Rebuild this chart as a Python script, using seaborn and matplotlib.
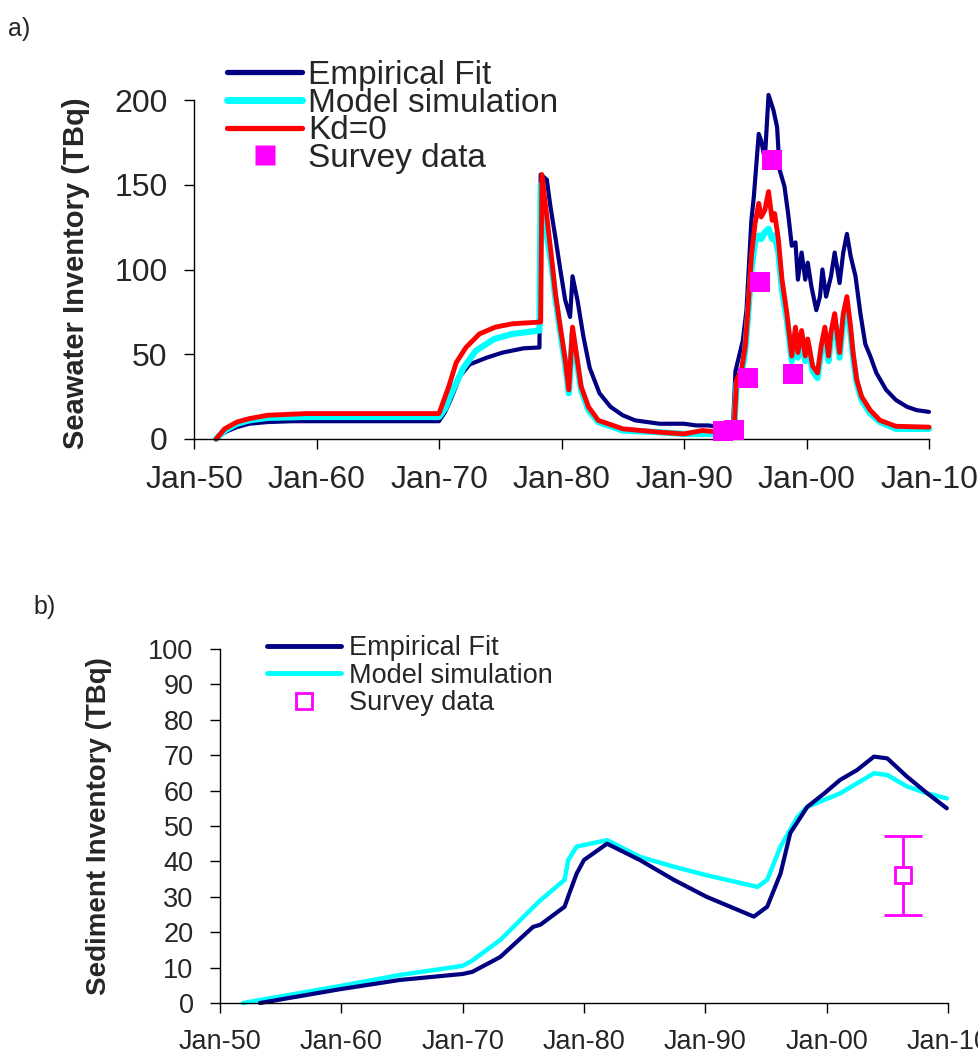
import matplotlib
matplotlib.use("Agg")
import matplotlib.pyplot as plt
from matplotlib.lines import Line2D
import seaborn as sns

# ---------------- (a) Seawater inventory, TBq ----------------
emp_sea_year = [1951.8, 1952.5, 1953.5, 1954.5, 1956.0, 1958.0, 1960.0, 1970.0, 1970.5, 1971.0,
                1971.7, 1972.5, 1973.9, 1975.2, 1976.9, 1978.2, 1978.3, 1978.8, 1979.1, 1979.5,
                1979.9, 1980.3, 1980.7, 1980.9, 1981.3, 1981.8, 1982.3, 1983.1, 1984.0, 1985.0,
                1986.0, 1987.0, 1988.0, 1990.0, 1991.0, 1992.0, 1993.0, 1994.0, 1994.2, 1994.8,
                1995.1, 1995.5, 1995.7, 1996.1, 1996.3, 1996.6, 1996.9, 1997.3, 1997.6, 1997.8,
                1998.2, 1998.5, 1998.8, 1999.1, 1999.3, 1999.6, 1999.9, 2000.1, 2000.4, 2000.8,
                2001.1, 2001.3, 2001.6, 2002.0, 2002.3, 2002.7, 2003.0, 2003.3, 2003.6, 2004.0,
                2004.4, 2004.8, 2005.2, 2005.7, 2006.5, 2007.3, 2008.2, 2009.0, 2010.0]
emp_sea_val = [0, 4, 7, 9, 10, 10.5, 10.5, 10.5, 16, 24,
               37, 44, 48, 51, 53.5, 54, 156, 153, 137, 119,
               100, 82, 72, 96, 82, 60, 42, 27, 19, 14,
               11, 10, 9, 9, 8, 8, 7, 8, 40, 58,
               76, 129, 143, 180, 176, 165, 203, 194, 184, 159,
               149, 133, 114, 116, 94, 110, 94, 104, 90, 76,
               84, 100, 84, 96, 110, 92, 110, 121, 108, 96,
               74, 56, 49, 39, 29, 23, 19, 17, 16]

model_sea_year = [1951.8, 1952.5, 1953.5, 1954.5, 1956.0, 1959.0, 1970.0, 1970.5, 1971.2, 1972.0,
                  1973.0, 1974.5, 1976.0, 1978.2, 1978.3, 1978.8, 1979.2, 1979.5, 1979.9, 1980.3,
                  1980.6, 1980.9, 1981.2, 1981.6, 1982.2, 1983.0, 1985.0, 1988.0, 1990.0, 1993.0,
                  1994.1, 1994.3, 1994.7, 1995.0, 1995.2, 1995.5, 1995.8, 1996.1, 1996.3, 1996.6,
                  1996.9, 1997.2, 1997.4, 1997.7, 1998.0, 1998.4, 1998.8, 1999.1, 1999.3, 1999.6,
                  1999.9, 2000.1, 2000.5, 2000.9, 2001.2, 2001.5, 2001.8, 2002.0, 2002.3, 2002.7,
                  2003.0, 2003.3, 2003.6, 2003.8, 2004.1, 2004.5, 2005.2, 2006.0, 2007.3, 2010.0]
model_sea_val = [0, 5, 9, 11, 12.5, 13, 13, 18, 30, 42,
                 52, 59, 62, 64, 150, 120, 102, 83, 63, 44,
                 27, 62, 48, 29, 17, 10, 5, 4, 3, 3,
                 6, 33, 38, 52, 70, 100, 116, 120, 118, 122,
                 124, 118, 120, 110, 88, 70, 46, 62, 48, 60,
                 46, 56, 40, 36, 52, 62, 46, 60, 70, 48,
                 70, 78, 62, 48, 33, 23, 15, 10, 6, 6]

kd0_sea_year = [1951.8, 1952.5, 1953.5, 1954.5, 1956.0, 1959.2, 1970.0, 1970.8, 1971.4, 1972.2,
                1973.3, 1974.6, 1976.0, 1978.3, 1978.4, 1978.9, 1979.2, 1979.5, 1979.9, 1980.3,
                1980.6, 1980.9, 1981.2, 1981.6, 1982.2, 1983.0, 1985.0, 1986.5, 1988.0, 1990.0,
                1991.5, 1993.0, 1994.1, 1994.3, 1994.7, 1995.0, 1995.2, 1995.5, 1995.8, 1996.1,
                1996.3, 1996.6, 1996.9, 1997.2, 1997.4, 1997.7, 1998.0, 1998.4, 1998.8, 1999.1,
                1999.3, 1999.6, 1999.9, 2000.1, 2000.5, 2000.9, 2001.2, 2001.5, 2001.8, 2002.0,
                2002.3, 2002.7, 2003.0, 2003.3, 2003.6, 2003.8, 2004.1, 2004.5, 2005.2, 2006.0,
                2007.3, 2010.0]
kd0_sea_val = [0, 6, 10, 12, 14, 15, 15, 31, 45, 54,
               62, 66, 68, 69, 156, 125, 106, 86, 66, 47,
               29, 66, 51, 31, 19, 11, 6, 5, 4, 3,
               5, 4, 8, 35, 41, 55, 74, 108, 127, 139,
               131, 135, 146, 129, 133, 118, 94, 74, 49, 66,
               51, 64, 49, 59, 43, 39, 55, 66, 49, 63,
               74, 51, 74, 84, 66, 51, 35, 25, 17, 11,
               7.5, 7]

survey_sea_year = [1993.2, 1994.1, 1995.2, 1996.2, 1997.2, 1998.9]
survey_sea_val = [4.7, 5.3, 35.8, 92.4, 164.6, 38.2]

# ---------------- (b) Sediment inventory, TBq ----------------
emp_sed_year = [1953.3, 1959.9, 1964.8, 1970.0, 1970.8, 1973.1, 1975.8, 1976.4, 1978.4, 1978.9,
                1979.4, 1980.0, 1981.9, 1984.6, 1987.4, 1990.1, 1994.0, 1995.1, 1996.2, 1997.0,
                1998.4, 1999.8, 2001.1, 2002.5, 2003.9, 2005.0, 2006.6, 2008.3, 2009.9]
emp_sed_val = [0, 3.9, 6.5, 8.2, 8.8, 13, 21.5, 22.1, 27.2, 32,
               36.6, 40.4, 45, 40.4, 34.8, 30, 24.4, 27.2, 36.6, 48,
               55.4, 59.2, 63, 65.8, 69.6, 69.1, 64, 59.2, 55]

model_sed_year = [1951.9, 1959.9, 1964.8, 1970.0, 1970.8, 1973.1, 1975.8, 1976.4, 1978.4, 1978.7,
                  1979.4, 1981.9, 1984.6, 1987.4, 1990.1, 1994.3, 1995.1, 1996.2, 1997.6, 1998.4,
                  2001.1, 2003.9, 2005.0, 2006.6, 2008.3, 2009.9]
model_sed_val = [0, 4.8, 7.9, 10.5, 12, 17.8, 27, 29, 34.8, 40.4,
                 44.2, 46, 41.3, 38.5, 36.1, 32.8, 34.8, 44.2, 52.6, 55.4,
                 59.2, 64.9, 64.4, 61.2, 59.2, 57.8]

survey_sed_year = [2006.3]
survey_sed_val = [36.1]
survey_sed_err = [11.1]

decade_ticks = [1950, 1960, 1970, 1980, 1990, 2000, 2010]
decade_labels = ["Jan-50", "Jan-60", "Jan-70", "Jan-80", "Jan-90", "Jan-00", "Jan-10"]

NAVY, CYAN, RED, MAGENTA = "#000080", "#00FFFF", "#FF0000", "#FF00FF"

sns.set_style("ticks")
plt.rcParams["font.family"] = ["Liberation Sans", "DejaVu Sans"]

fig = plt.figure(figsize=(9.79, 10.54), dpi=100)
W, H = 979, 1054

def axes_px(left, top, right, bottom):
    return fig.add_axes([left / W, 1 - bottom / H, (right - left) / W, (bottom - top) / H])

ax1 = axes_px(194, 100, 929, 439)
ax2 = axes_px(220, 649, 948, 1003)

# ---- panel a ----
sns.lineplot(x=emp_sea_year, y=emp_sea_val, ax=ax1, color=NAVY, lw=3.0, clip_on=False)
sns.lineplot(x=model_sea_year, y=model_sea_val, ax=ax1, color=CYAN, lw=4.5, clip_on=False)
sns.lineplot(x=kd0_sea_year, y=kd0_sea_val, ax=ax1, color=RED, lw=3.5, clip_on=False)
sns.scatterplot(x=survey_sea_year, y=survey_sea_val, ax=ax1, marker="s", s=210,
                color=MAGENTA, edgecolor="none", zorder=5, clip_on=False)

ax1.set_xlim(1950, 2010)
ax1.set_ylim(0, 200)
ax1.set_xticks(decade_ticks)
ax1.set_xticklabels(decade_labels)
ax1.set_yticks([0, 50, 100, 150, 200])
ax1.tick_params(axis="both", labelsize=23, length=7, width=1, pad=12, color="black")
ax1.set_ylabel("Seawater Inventory (TBq)", fontsize=21, fontweight="bold")
ax1.yaxis.set_label_coords(-0.142, 0.49)

handles_a = [
    Line2D([], [], color=NAVY, lw=3.8),
    Line2D([], [], color=CYAN, lw=5.0),
    Line2D([], [], color=RED, lw=3.8),
    Line2D([], [], color=MAGENTA, marker="s", ms=15, lw=0, mec="none"),
]
ax1.legend(handles_a, ["Empirical Fit", "Model simulation", "Kd=0", "Survey data"],
           loc="upper left", bbox_to_anchor=(227 / W, 1 - 60 / H), bbox_transform=fig.transFigure,
           frameon=False, fontsize=24, handlelength=2.25, handletextpad=0.18,
           labelspacing=-0.1, borderpad=0, borderaxespad=0)

# ---- panel b ----
sns.lineplot(x=model_sed_year, y=model_sed_val, ax=ax2, color=CYAN, lw=3.2, clip_on=False)
sns.lineplot(x=emp_sed_year, y=emp_sed_val, ax=ax2, color=NAVY, lw=3.0, clip_on=False)
ax2.errorbar(survey_sed_year, survey_sed_val, yerr=survey_sed_err, fmt="s", ms=12,
             mfc="white", mec=MAGENTA, mew=2, ecolor=MAGENTA, elinewidth=2,
             capsize=14, capthick=2, zorder=5)

ax2.set_xlim(1950, 2010)
ax2.set_ylim(0, 100)
ax2.set_xticks(decade_ticks)
ax2.set_xticklabels(decade_labels)
ax2.set_yticks(range(0, 101, 10))
ax2.tick_params(axis="both", labelsize=19.5, length=7, width=1, pad=12, color="black")
ax2.set_ylabel("Sediment Inventory (TBq)", fontsize=20, fontweight="bold")
ax2.yaxis.set_label_coords(-0.148, 0.5)

handles_b = [
    Line2D([], [], color=NAVY, lw=3.5),
    Line2D([], [], color=CYAN, lw=3.5),
    Line2D([], [], color=MAGENTA, marker="s", ms=11, lw=0, mfc="white", mew=2),
]
ax2.legend(handles_b, ["Empirical Fit", "Model simulation", "Survey data"],
           loc="upper left", bbox_to_anchor=(267 / W, 1 - 635 / H), bbox_transform=fig.transFigure,
           frameon=False, fontsize=19.5, handlelength=2.75, handletextpad=0.27,
           labelspacing=0.06, borderpad=0, borderaxespad=0)

for ax in (ax1, ax2):
    sns.despine(ax=ax)
    for side in ("left", "bottom"):
        ax.spines[side].set_color("black")
        ax.spines[side].set_linewidth(1)
    ax.set_xlabel("")

fig.text(8 / W, 1 - 36 / H, "a)", fontsize=18)
fig.text(33 / W, 1 - 614 / H, "b)", fontsize=18)

fig.savefig("out.png", dpi=100)
